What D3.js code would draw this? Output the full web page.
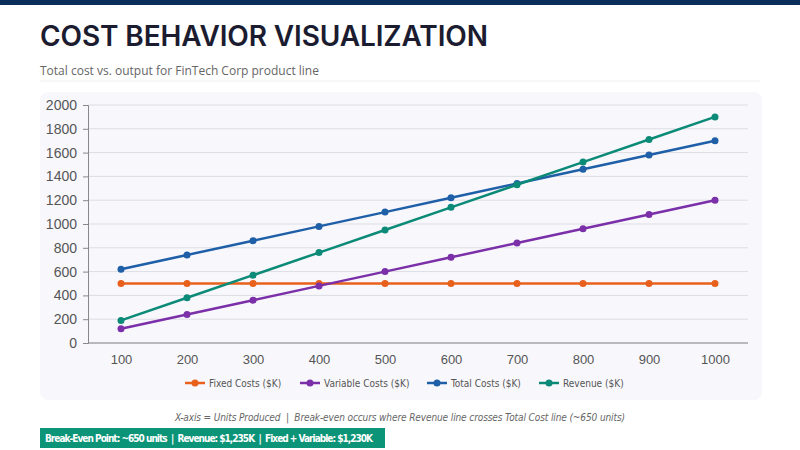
<!DOCTYPE html>
<html><head><meta charset="utf-8">
<script src="https://cdn.jsdelivr.net/npm/d3@7"></script>
<style>body{margin:0;background:#fff;}svg{display:block;}text{white-space:pre;}</style>
</head><body>
<svg id="chart" width="800" height="450"></svg>
<script>
var units = [100, 200, 300, 400, 500, 600, 700, 800, 900, 1000];
var fixedCosts = [500, 500, 500, 500, 500, 500, 500, 500, 500, 500];
var variableCosts = [120, 240, 360, 480, 600, 720, 840, 960, 1080, 1200];
var totalCosts = [620, 740, 860, 980, 1100, 1220, 1340, 1460, 1580, 1700];
var revenue = [190, 380, 570, 760, 950, 1140, 1330, 1520, 1710, 1900];
var yTicks = [0, 200, 400, 600, 800, 1000, 1200, 1400, 1600, 1800, 2000];

var series = [
  {name: 'Fixed Costs ($K)', color: '#e8601c', values: fixedCosts},
  {name: 'Variable Costs ($K)', color: '#7b2fa8', values: variableCosts},
  {name: 'Total Costs ($K)', color: '#1f5fa8', values: totalCosts},
  {name: 'Revenue ($K)', color: '#0c8a78', values: revenue}
];
var narrow = '"DejaVu Sans Condensed", "Liberation Sans Narrow", sans-serif';

var svg = d3.select('#chart');
svg.append('rect').attr('width', 800).attr('height', 5).attr('fill', '#0b2d5b');
svg.append('text').attr('x', 40).attr('y', 46).text('COST BEHAVIOR VISUALIZATION')
  .attr('font-family', 'Inter, sans-serif').attr('font-weight', 600).attr('font-size', 28).attr('fill', '#1c1c30')
  .attr('textLength', 448);
svg.append('text').attr('x', 40).attr('y', 75).text('Total cost vs. output for FinTech Corp product line')
  .attr('font-family', '"Open Sans", sans-serif').attr('font-size', 12).attr('fill', '#666');
svg.append('line').attr('x1', 40).attr('x2', 760).attr('y1', 81).attr('y2', 81).attr('stroke', '#eee');
svg.append('rect').attr('x', 40).attr('y', 92).attr('width', 722).attr('height', 308).attr('rx', 8).attr('fill', '#f8f8fc');

var x = d3.scalePoint().domain(units).range([121, 715]);
var y = d3.scaleLinear().domain([0, 2000]).range([343, 105]);

var g = svg.append('g');
g.selectAll('line.grid').data(yTicks).enter().append('line')
  .attr('x1', 88).attr('x2', 748).attr('y1', y).attr('y2', y).attr('stroke', '#dcdce4');

var yAxis = g.append('g').attr('transform', 'translate(88,0)')
  .call(d3.axisLeft(y).tickValues(yTicks).tickFormat(d3.format('d')).tickSize(5).tickPadding(6));
var xAxis = g.append('g').attr('transform', 'translate(0,343)')
  .call(d3.axisBottom(x).tickSize(0).tickPadding(12));
xAxis.select('.domain').attr('d', 'M88,0H748');
[yAxis, xAxis].forEach(function (a) {
  a.selectAll('text').attr('font-family', 'Arial, sans-serif').attr('font-size', 14).attr('fill', '#555');
  a.selectAll('.domain, line').attr('stroke', '#888');
});
xAxis.selectAll('text').attr('font-size', 13);

var line = d3.line().x(function (d, i) { return x(units[i]); }).y(function (d) { return y(d); });
series.forEach(function (s) {
  g.append('path').datum(s.values).attr('d', line).attr('fill', 'none')
    .attr('stroke', s.color).attr('stroke-width', 2.5);
  g.selectAll(null).data(s.values).enter().append('circle')
    .attr('cx', function (d, i) { return x(units[i]); }).attr('cy', y).attr('r', 3.5).attr('fill', s.color);
});

var legendX = [185, 300, 427, 539];
var lg = svg.append('g');
series.forEach(function (s, i) {
  var lx = legendX[i];
  lg.append('line').attr('x1', lx).attr('x2', lx + 20).attr('y1', 383).attr('y2', 383).attr('stroke', s.color).attr('stroke-width', 2.5);
  lg.append('circle').attr('cx', lx + 10).attr('cy', 383).attr('r', 3.5).attr('fill', s.color);
  lg.append('text').attr('x', lx + 24).attr('y', 387).text(s.name)
    .attr('font-family', narrow).attr('font-size', 10).attr('fill', '#555');
});

svg.append('text').attr('x', 400).attr('y', 421).attr('text-anchor', 'middle')
  .text('X-axis = Units Produced  |  Break-even occurs where Revenue line crosses Total Cost line (~650 units)')
  .attr('font-family', narrow).attr('font-style', 'italic').attr('font-size', 10).attr('fill', '#666')
  .attr('textLength', 450);
svg.append('rect').attr('x', 40).attr('y', 428).attr('width', 345).attr('height', 20).attr('fill', '#0c9478');
svg.append('text').attr('x', 45).attr('y', 442)
  .text('Break-Even Point: ~650 units  |  Revenue: $1,235K  |  Fixed + Variable: $1,230K')
  .attr('font-family', narrow).attr('font-weight', 700).attr('font-size', 10).attr('fill', '#fff')
  .attr('textLength', 328);
</script>
</body></html>
